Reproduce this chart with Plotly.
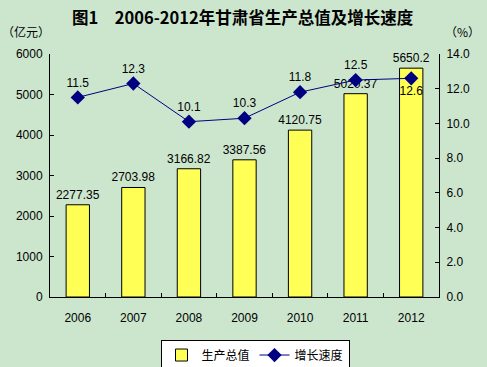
import plotly.graph_objects as go

years = ["2006", "2007", "2008", "2009", "2010", "2011", "2012"]
gdp = [2277.35, 2703.98, 3166.82, 3387.56, 4120.75, 5020.37, 5650.2]
gdp_labels = ["2277.35", "2703.98", "3166.82", "3387.56", "4120.75", "5020.37", "5650.2"]
growth = [11.5, 12.3, 10.1, 10.3, 11.8, 12.5, 12.6]
growth_labels = ["11.5", "12.3", "10.1", "10.3", "11.8", "12.5", "12.6"]
growth_textpos = ["top center"] * 6 + ["bottom center"]

bg = "#CCE6CE"
num_font = dict(family="Liberation Sans, Arial, sans-serif", size=12, color="black")
cjk = "Noto Sans CJK SC, sans-serif"

fig = go.Figure()
fig.add_trace(go.Bar(
    x=years, y=gdp, name="生产总值",
    marker=dict(color="#FFFF55", line=dict(color="black", width=1)),
    width=0.42,
    text=gdp_labels, textposition="outside", textfont=num_font,
    constraintext="none", cliponaxis=False,
))
fig.add_trace(go.Scatter(
    x=years, y=growth, name="增长速度", yaxis="y2",
    mode="lines+markers+text",
    line=dict(color="#000080", width=1),
    marker=dict(symbol="diamond", size=11, color="#000080"),
    text=growth_labels, textposition=growth_textpos, textfont=num_font,
    cliponaxis=False,
))

fig.update_layout(
    width=487, height=367,
    paper_bgcolor=bg, plot_bgcolor=bg,
    margin=dict(l=50, r=48, t=54, b=70, autoexpand=False),
    showlegend=True,
    legend=dict(
        orientation="h", x=0.527, xanchor="center", y=-0.175, yanchor="top",
        bgcolor="white", bordercolor="black", borderwidth=1,
        font=dict(family=cjk, size=12, color="black"),
        tracegroupgap=0,
    ),
    xaxis=dict(
        type="category", showline=True, linecolor="black", linewidth=1,
        ticks="inside", ticklen=4, tickson="boundaries", tickcolor="black",
        showgrid=False, tickfont=num_font, ticklabelstandoff=10,
    ),
    yaxis=dict(
        range=[0, 6000], dtick=1000, showline=True, linecolor="black", linewidth=1,
        ticks="inside", ticklen=4, tickcolor="black", showgrid=False, zeroline=False,
        tickfont=num_font, ticklabelstandoff=4,
    ),
    yaxis2=dict(
        range=[0, 14], dtick=2, tickformat=".1f", overlaying="y", side="right",
        showline=True, linecolor="black", linewidth=1,
        ticks="inside", ticklen=4, tickcolor="black", showgrid=False, zeroline=False,
        tickfont=num_font, ticklabelstandoff=4,
    ),
    annotations=[
        dict(text="<b>图1　2006-2012年甘肃省生产总值及增长速度</b>", xref="paper", yref="paper",
             x=0.496, y=1 + (54 - 17) / 243, xanchor="center", yanchor="middle",
             showarrow=False, font=dict(family=cjk, size=16.5, color="black")),
        dict(text="（亿元）", xref="paper", yref="paper",
             x=-50 / 389, y=1 + (54 - 32) / 243, xanchor="left", yanchor="middle",
             showarrow=False, font=dict(family=cjk, size=12, color="black")),
        dict(text="（%）", xref="paper", yref="paper",
             x=1 + 4 / 389, y=1 + (54 - 32) / 243, xanchor="left", yanchor="middle",
             showarrow=False, font=dict(family=cjk, size=12, color="black")),
    ],
)

fig.write_html("out.html", config={"displayModeBar": False},
               post_script="document.body.style.margin='0';document.body.style.overflow='hidden';")
